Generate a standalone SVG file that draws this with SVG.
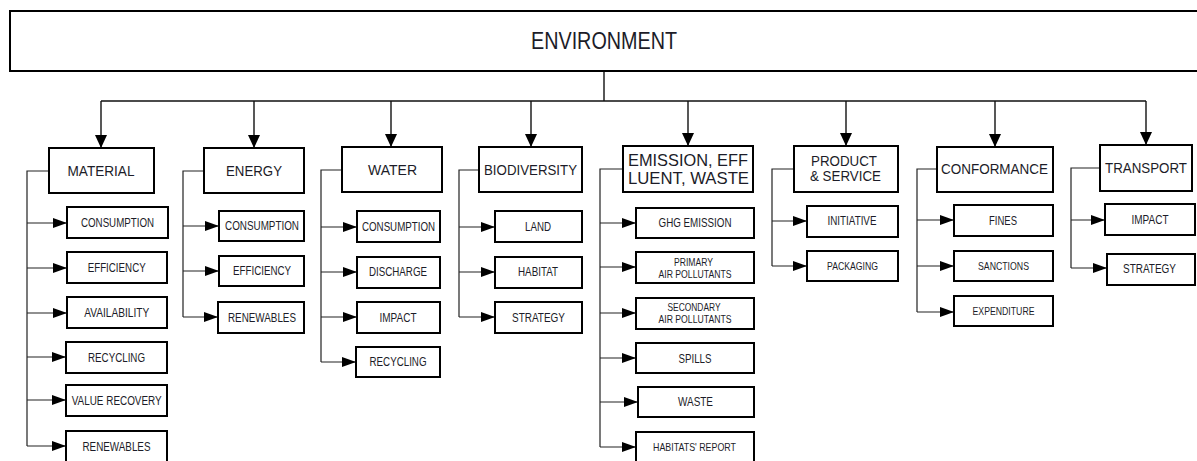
<svg xmlns="http://www.w3.org/2000/svg" width="1197" height="461" viewBox="0 0 1197 461">
<style>
.box{fill:#fff;stroke:#000;stroke-width:2}
.t{font-family:"Liberation Sans",Arial,sans-serif;fill:#1c1c28;text-anchor:middle}
.cat{font-size:15px}
.ch{font-size:12px}
.sm{font-size:11px}
.c{fill:none;stroke:#222;stroke-width:1.2}
.cd{fill:none;stroke:#111;stroke-width:1.4}
</style>
<defs>
<marker id="ah" markerWidth="14" markerHeight="10" refX="14" refY="5" orient="auto" markerUnits="userSpaceOnUse"><path d="M0,0 L14,5 L0,10 Z" fill="#000"/></marker>
<marker id="av" markerWidth="13" markerHeight="12" refX="13" refY="6" orient="auto" markerUnits="userSpaceOnUse"><path d="M0,0 L13,6 L0,12 Z" fill="#000"/></marker>
</defs>
<g id="connectors">
<path class="cd" d="M604,71 V101 M101,101 H1146"/>
<path class="cd" marker-end="url(#av)" d="M101,101 V148"/>
<path class="cd" marker-end="url(#av)" d="M254,101 V148"/>
<path class="cd" marker-end="url(#av)" d="M391,101 V147"/>
<path class="cd" marker-end="url(#av)" d="M531,101 V147"/>
<path class="cd" marker-end="url(#av)" d="M688,101 V146"/>
<path class="cd" marker-end="url(#av)" d="M846,101 V146"/>
<path class="cd" marker-end="url(#av)" d="M995,101 V147"/>
<path class="cd" marker-end="url(#av)" d="M1146,101 V145"/>
<path class="c" d="M49,171 H27 V446"/>
<path class="c" marker-end="url(#ah)" d="M27,223 H67"/>
<path class="c" marker-end="url(#ah)" d="M27,268 H67"/>
<path class="c" marker-end="url(#ah)" d="M27,313 H67"/>
<path class="c" marker-end="url(#ah)" d="M27,357 H66"/>
<path class="c" marker-end="url(#ah)" d="M27,400 H66"/>
<path class="c" marker-end="url(#ah)" d="M27,446 H66"/>
<path class="c" d="M204,171 H183 V317"/>
<path class="c" marker-end="url(#ah)" d="M183,226 H219"/>
<path class="c" marker-end="url(#ah)" d="M183,271 H219"/>
<path class="c" marker-end="url(#ah)" d="M183,317 H218"/>
<path class="c" d="M342,170 H321 V362"/>
<path class="c" marker-end="url(#ah)" d="M321,227 H357"/>
<path class="c" marker-end="url(#ah)" d="M321,272 H357"/>
<path class="c" marker-end="url(#ah)" d="M321,317 H357"/>
<path class="c" marker-end="url(#ah)" d="M321,362 H356"/>
<path class="c" d="M479,170 H459 V317"/>
<path class="c" marker-end="url(#ah)" d="M459,227 H495"/>
<path class="c" marker-end="url(#ah)" d="M459,272 H495"/>
<path class="c" marker-end="url(#ah)" d="M459,317 H495"/>
<path class="c" d="M623,169 H600 V447"/>
<path class="c" marker-end="url(#ah)" d="M600,223 H636"/>
<path class="c" marker-end="url(#ah)" d="M600,267 H636"/>
<path class="c" marker-end="url(#ah)" d="M600,313 H636"/>
<path class="c" marker-end="url(#ah)" d="M600,358 H636"/>
<path class="c" marker-end="url(#ah)" d="M600,402 H638"/>
<path class="c" marker-end="url(#ah)" d="M600,447 H636"/>
<path class="c" d="M794,169 H772 V266"/>
<path class="c" marker-end="url(#ah)" d="M772,221 H807"/>
<path class="c" marker-end="url(#ah)" d="M772,266 H807"/>
<path class="c" d="M937,169 H917 V312"/>
<path class="c" marker-end="url(#ah)" d="M917,220 H954"/>
<path class="c" marker-end="url(#ah)" d="M917,266 H954"/>
<path class="c" marker-end="url(#ah)" d="M917,312 H954"/>
<path class="c" d="M1100,168 H1071 V268"/>
<path class="c" marker-end="url(#ah)" d="M1071,220 H1105"/>
<path class="c" marker-end="url(#ah)" d="M1071,268 H1107"/>
</g>
<g id="environment"><rect class="box" x="10" y="11" width="1200" height="60"/><text class="t" x="604" y="49" font-size="23" textLength="146" lengthAdjust="spacingAndGlyphs">ENVIRONMENT</text></g>
<g id="material"><rect class="box" x="49" y="148" width="105" height="45"/><text class="t cat" x="101" y="176" textLength="67" lengthAdjust="spacingAndGlyphs">MATERIAL</text></g>
<g id="energy"><rect class="box" x="204" y="148" width="100" height="45"/><text class="t cat" x="254" y="176" textLength="56" lengthAdjust="spacingAndGlyphs">ENERGY</text></g>
<g id="water"><rect class="box" x="342" y="147" width="100" height="45"/><text class="t cat" x="392.5" y="175" textLength="49" lengthAdjust="spacingAndGlyphs">WATER</text></g>
<g id="biodiversity"><rect class="box" x="479" y="147" width="103" height="45"/><text class="t cat" x="530.5" y="175" textLength="93" lengthAdjust="spacingAndGlyphs">BIODIVERSITY</text></g>
<g id="emission"><rect class="box" x="623" y="146" width="130" height="46"/><text class="t" font-size="16.5" x="688" y="166" textLength="120" lengthAdjust="spacingAndGlyphs">EMISSION, EFF</text><text class="t" font-size="16.5" x="688.5" y="184" textLength="121" lengthAdjust="spacingAndGlyphs">LUENT, WASTE</text></g>
<g id="product"><rect class="box" x="794" y="146" width="104" height="46"/><text class="t cat" x="844" y="166" textLength="66" lengthAdjust="spacingAndGlyphs">PRODUCT</text><text class="t cat" x="845.5" y="181" textLength="71" lengthAdjust="spacingAndGlyphs">&amp; SERVICE</text></g>
<g id="conformance"><rect class="box" x="937" y="147" width="116" height="45"/><text class="t cat" x="994.5" y="174" textLength="107" lengthAdjust="spacingAndGlyphs">CONFORMANCE</text></g>
<g id="transport"><rect class="box" x="1100" y="145" width="92" height="46"/><text class="t cat" x="1146" y="173" textLength="82" lengthAdjust="spacingAndGlyphs">TRANSPORT</text></g>
<g id="mat-consumption"><rect class="box" x="67" y="207" width="101" height="31"/><text class="t ch" x="117.5" y="227" textLength="73" lengthAdjust="spacingAndGlyphs">CONSUMPTION</text></g>
<g id="mat-efficiency"><rect class="box" x="67" y="252" width="100" height="31"/><text class="t ch" x="116.7" y="272" textLength="58" lengthAdjust="spacingAndGlyphs">EFFICIENCY</text></g>
<g id="mat-availability"><rect class="box" x="67" y="297" width="100" height="31"/><text class="t ch" x="116.7" y="317" textLength="65" lengthAdjust="spacingAndGlyphs">AVAILABILITY</text></g>
<g id="mat-recycling"><rect class="box" x="66" y="342" width="101" height="31"/><text class="t ch" x="116.5" y="362" textLength="57" lengthAdjust="spacingAndGlyphs">RECYCLING</text></g>
<g id="mat-value"><rect class="box" x="66" y="385" width="101" height="31"/><text class="t ch" x="116.7" y="405" textLength="90" lengthAdjust="spacingAndGlyphs">VALUE RECOVERY</text></g>
<g id="mat-renewables"><rect class="box" x="66" y="431" width="101" height="31"/><text class="t ch" x="116.5" y="451" textLength="68" lengthAdjust="spacingAndGlyphs">RENEWABLES</text></g>
<g id="en-consumption"><rect class="box" x="219" y="211" width="85" height="30"/><text class="t ch" x="262" y="230" textLength="74" lengthAdjust="spacingAndGlyphs">CONSUMPTION</text></g>
<g id="en-efficiency"><rect class="box" x="219" y="256" width="85" height="30"/><text class="t ch" x="262" y="275" textLength="58" lengthAdjust="spacingAndGlyphs">EFFICIENCY</text></g>
<g id="en-renewables"><rect class="box" x="218" y="302" width="86" height="31"/><text class="t ch" x="262" y="322" textLength="68" lengthAdjust="spacingAndGlyphs">RENEWABLES</text></g>
<g id="wa-consumption"><rect class="box" x="357" y="211" width="83" height="31"/><text class="t ch" x="398.5" y="231" textLength="73" lengthAdjust="spacingAndGlyphs">CONSUMPTION</text></g>
<g id="wa-discharge"><rect class="box" x="357" y="257" width="83" height="31"/><text class="t ch" x="398" y="276" textLength="58" lengthAdjust="spacingAndGlyphs">DISCHARGE</text></g>
<g id="wa-impact"><rect class="box" x="357" y="302" width="83" height="31"/><text class="t ch" x="398" y="322" textLength="37" lengthAdjust="spacingAndGlyphs">IMPACT</text></g>
<g id="wa-recycling"><rect class="box" x="356" y="347" width="84" height="30"/><text class="t ch" x="398" y="366" textLength="57" lengthAdjust="spacingAndGlyphs">RECYCLING</text></g>
<g id="bio-land"><rect class="box" x="495" y="211" width="87" height="31"/><text class="t ch" x="538" y="231" textLength="26" lengthAdjust="spacingAndGlyphs">LAND</text></g>
<g id="bio-habitat"><rect class="box" x="495" y="257" width="87" height="31"/><text class="t ch" x="538" y="276" textLength="40" lengthAdjust="spacingAndGlyphs">HABITAT</text></g>
<g id="bio-strategy"><rect class="box" x="495" y="302" width="87" height="31"/><text class="t ch" x="538.5" y="322" textLength="53" lengthAdjust="spacingAndGlyphs">STRATEGY</text></g>
<g id="em-ghg"><rect class="box" x="636" y="208" width="118" height="30"/><text class="t ch" x="695" y="227" textLength="73" lengthAdjust="spacingAndGlyphs">GHG EMISSION</text></g>
<g id="em-primary"><rect class="box" x="636" y="252" width="118" height="31"/><text class="t sm" x="693.5" y="266" font-size="10.5" textLength="39" lengthAdjust="spacingAndGlyphs">PRIMARY</text><text class="t sm" x="695" y="278" textLength="73" lengthAdjust="spacingAndGlyphs">AIR POLLUTANTS</text></g>
<g id="em-secondary"><rect class="box" x="636" y="298" width="118" height="31"/><text class="t sm" x="694" y="311" textLength="53" lengthAdjust="spacingAndGlyphs">SECONDARY</text><text class="t sm" x="695" y="323" textLength="73" lengthAdjust="spacingAndGlyphs">AIR POLLUTANTS</text></g>
<g id="em-spills"><rect class="box" x="636" y="343" width="118" height="30"/><text class="t ch" x="695" y="363" textLength="33" lengthAdjust="spacingAndGlyphs">SPILLS</text></g>
<g id="em-waste"><rect class="box" x="638" y="387" width="116" height="30"/><text class="t ch" x="695.5" y="406" textLength="35" lengthAdjust="spacingAndGlyphs">WASTE</text></g>
<g id="em-habitats"><rect class="box" x="636" y="432" width="118" height="31"/><text class="t sm" x="694.5" y="451" textLength="83" lengthAdjust="spacingAndGlyphs">HABITATS' REPORT</text></g>
<g id="pr-initiative"><rect class="box" x="807" y="206" width="91" height="31"/><text class="t ch" x="852" y="225" textLength="49" lengthAdjust="spacingAndGlyphs">INITIATIVE</text></g>
<g id="pr-packaging"><rect class="box" x="807" y="251" width="91" height="30"/><text class="t sm" x="852.5" y="270" textLength="51" lengthAdjust="spacingAndGlyphs">PACKAGING</text></g>
<g id="co-fines"><rect class="box" x="954" y="205" width="99" height="31"/><text class="t ch" x="1003" y="225" textLength="28" lengthAdjust="spacingAndGlyphs">FINES</text></g>
<g id="co-sanctions"><rect class="box" x="954" y="251" width="99" height="30"/><text class="t sm" x="1003.5" y="270" textLength="51" lengthAdjust="spacingAndGlyphs">SANCTIONS</text></g>
<g id="co-expenditure"><rect class="box" x="954" y="296" width="99" height="30"/><text class="t sm" x="1003.5" y="315" textLength="62" lengthAdjust="spacingAndGlyphs">EXPENDITURE</text></g>
<g id="tr-impact"><rect class="box" x="1105" y="204" width="90" height="31"/><text class="t ch" x="1150" y="224" textLength="37" lengthAdjust="spacingAndGlyphs">IMPACT</text></g>
<g id="tr-strategy"><rect class="box" x="1107" y="254" width="88" height="31"/><text class="t ch" x="1149.5" y="273" textLength="53" lengthAdjust="spacingAndGlyphs">STRATEGY</text></g>
</svg>
